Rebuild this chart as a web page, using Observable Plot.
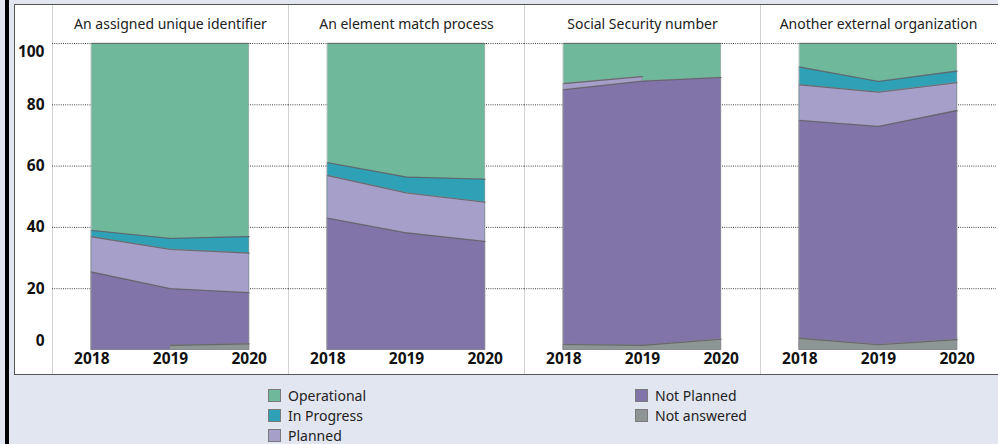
<!DOCTYPE html>
<html>
<head>
<meta charset="utf-8">
<script src="https://cdn.jsdelivr.net/npm/d3@7"></script>
<script src="https://cdn.jsdelivr.net/npm/@observablehq/plot@0.6"></script>
<style>
  html, body { margin: 0; padding: 0; width: 998px; height: 444px; overflow: hidden; background: #e2e6f0; font-family: "Noto Sans", sans-serif; }
  #bar { position: absolute; left: 5px; top: 0; width: 4px; height: 444px; background: #000; }
  #panel { position: absolute; left: 14px; top: 4px; width: 984px; height: 371px; box-sizing: border-box; background: #fff;
           border-top: 1px solid #555; border-left: 1px solid #555; border-bottom: 1px solid #555; }
  #chart { position: absolute; left: 0; top: 0; }
  #legend { position: absolute; top: 385px; left: 0; width: 998px; height: 60px; }
  .item { position: absolute; display: flex; align-items: center; height: 20px; font-size: 14px; color: #222; white-space: nowrap; }
  .sw { width: 11px; height: 11px; border: 1px solid #7a7a7a; margin-right: 7px; }
</style>
</head>
<body>
<div id="bar"></div>
<div id="panel"><div id="chart"></div></div>
<div id="legend"></div>
<script>
// ---- data ----
const facets = ["An assigned unique identifier", "An element match process", "Social Security number", "Another external organization"];
const years = [2018, 2019, 2020];
const stackOrder = ["Not answered", "Not Planned", "Planned", "In Progress", "Operational"]; // bottom -> top
const legendCol1 = ["Operational", "In Progress", "Planned"];
const legendCol2 = ["Not Planned", "Not answered"];
const statusColors = ["#8e9595", "#8174a9", "#a59fca", "#2fa1b6", "#70b89b"];

// values per facet (rows) per year (columns), percent; null = no value
const notAnswered = [[null, 1.5, 2.0], [null, null, null], [1.8, 1.5, 3.5], [3.8, 1.7, 3.4]];
const notPlanned  = [[25.4, 18.5, 16.7], [43.0, 38.2, 35.4], [83.1, 86.2, 85.4], [71.1, 71.2, 74.7]];
const planned     = [[11.5, 12.8, 12.9], [13.9, 13.0, 12.8], [2.0, 1.5, null], [11.6, 11.2, 9.1]];
const inProgress  = [[2.1, 3.6, 5.4], [4.2, 5.2, 7.5], [null, null, null], [5.8, 3.5, 3.8]];
const operational = [[61.0, 63.6, 63.0], [38.9, 43.6, 44.3], [13.1, 10.8, 11.1], [7.7, 12.4, 9.0]];

const yTicks = [20, 40, 60, 80];

// ---- build cumulative table (each layer drawn from 0 to its cumulative top) ----
const series = [notAnswered, notPlanned, planned, inProgress, operational];
const rows = [];
facets.forEach((facet, f) => {
  years.forEach((year, i) => {
    let base = 0;
    stackOrder.forEach((status, s) => {
      const v = series[s][f][i];
      if (v == null) rows.push({facet, year, status, order: s, top: null});
      else { base += v; rows.push({facet, year, status, order: s, top: base}); }
    });
  });
});
// draw top layer first so lower layers paint over it
rows.sort((a, b) => (b.order - a.order) || (a.year - b.year));

const axisText = {fontSize: 15.5, fontWeight: "bold", fill: "#111", tickSize: 0, label: null};

const chart = Plot.plot({
  width: 983,
  height: 369,
  marginTop: 38,
  marginBottom: 24.5,
  marginLeft: 36,
  marginRight: 1,
  style: {fontFamily: "Noto Sans, sans-serif", background: "transparent", overflow: "visible"},
  fx: {domain: facets, padding: 0, label: null},
  x: {domain: [2017.5, 2020.5]},
  y: {domain: [0, 100]},
  color: {domain: stackOrder, range: statusColors},
  marks: [
    Plot.ruleX([2017.5], {stroke: "#d2d2d2", insetTop: -38, insetBottom: -24.5}),
    Plot.gridY([...yTicks, 100], {stroke: "#333", strokeOpacity: 0.9, strokeDasharray: "1,1.2"}),
    Plot.areaY(rows, {
      fx: "facet", x: "year", y1: 0, y2: "top", fill: "status", z: "status",
      stroke: "#8a8a8a", strokeOpacity: 0.45, strokeWidth: 1
    }),
    Plot.lineY(rows, {
      fx: "facet", x: "year", y: "top", z: "status",
      stroke: "#5e5e5e", strokeOpacity: 0.8, strokeWidth: 1.1
    }),
    Plot.axisFx({anchor: "top", label: null, tickSize: 0, tickPadding: 15, fontSize: 14, fill: "#222"}),
    Plot.axisX(years, {...axisText, tickFormat: "d", tickPadding: 3}),
    Plot.axisY(yTicks, {...axisText, tickPadding: 8}),
    Plot.axisY([100], {...axisText, tickPadding: 8, dy: 9}),
    Plot.axisY([0], {...axisText, tickPadding: 8, dy: -9})
  ]
});
document.getElementById("chart").appendChild(chart);

// ---- legend ----
const colorOf = Object.fromEntries(stackOrder.map((s, i) => [s, statusColors[i]]));
const legend = document.getElementById("legend");
[[legendCol1, 268], [legendCol2, 635]].forEach(([col, left]) => {
  col.forEach((name, r) => {
    const it = document.createElement("div");
    it.className = "item";
    it.style.left = left + "px";
    it.style.top = (r * 20.3) + "px";
    const sw = document.createElement("span");
    sw.className = "sw";
    sw.style.background = colorOf[name];
    const tx = document.createElement("span");
    tx.textContent = name;
    it.appendChild(sw); it.appendChild(tx);
    legend.appendChild(it);
  });
});
</script>
</body>
</html>
